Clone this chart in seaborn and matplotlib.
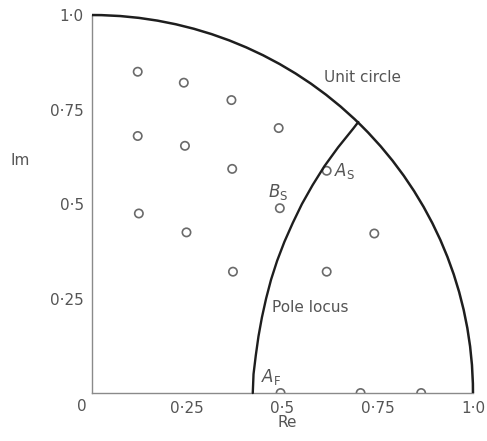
import matplotlib
matplotlib.use("Agg")
import matplotlib.pyplot as plt
from matplotlib.patches import Arc
import seaborn as sns
import pandas as pd

# Trial pole positions (open circles)
pole_re = [0.120, 0.241, 0.366, 0.490,
           0.120, 0.244, 0.368, 0.493,
           0.123, 0.248, 0.370,
           0.616, 0.741, 0.616,
           0.495, 0.705, 0.864]
pole_im = [0.850, 0.821, 0.775, 0.701,
           0.680, 0.654, 0.593, 0.489,
           0.475, 0.425, 0.321,
           0.588, 0.422, 0.321,
           0.0, 0.0, 0.0]

# Pole locus, from the real axis up to the unit circle
locus_re = [0.422, 0.424, 0.430, 0.437, 0.446, 0.457, 0.470, 0.486,
            0.505, 0.527, 0.551, 0.579, 0.610, 0.646, 0.686, 0.699]
locus_im = [0.000, 0.050, 0.100, 0.150, 0.200, 0.250, 0.300, 0.350,
            0.400, 0.450, 0.500, 0.550, 0.600, 0.650, 0.700, 0.717]

tick_vals = [0.25, 0.5, 0.75, 1.0]
tick_labels = ["0·25", "0·5", "0·75", "1·0"]

sns.set_theme(style="white")
plt.rcParams["font.family"] = ["DejaVu Sans"]

text_col = "#555555"
axis_col = "#8a8a8a"
curve_col = "#1e1e1e"

fig = plt.figure(figsize=(4.87, 4.41), dpi=100)
ax = fig.add_axes([0.1889, 0.1088, 0.7823, 0.8571])
ax.set_xlim(0, 1)
ax.set_ylim(0, 1)

poles = pd.DataFrame({"Re": pole_re, "Im": pole_im})
locus = pd.DataFrame({"Re": locus_re, "Im": locus_im})

sns.scatterplot(data=poles, x="Re", y="Im", ax=ax, marker="o", s=36,
                facecolor="none", edgecolor="#6a6a6a", linewidth=1.2, zorder=3)

sns.lineplot(data=locus, x="Re", y="Im", ax=ax, sort=False, estimator=None,
             color=curve_col, linewidth=1.7, zorder=4)
for ln in ax.lines:
    ln.set_clip_on(False)

ax.add_patch(Arc((0, 0), 2, 2, theta1=0, theta2=90, color=curve_col,
                 linewidth=1.8, clip_on=False, zorder=4))

for side in ("top", "right"):
    ax.spines[side].set_visible(False)
for side in ("left", "bottom"):
    ax.spines[side].set_color(axis_col)
    ax.spines[side].set_linewidth(1.0)

ax.set_xticks(tick_vals)
ax.set_xticklabels(tick_labels)
ax.set_yticks(tick_vals)
ax.set_yticklabels(tick_labels)
ax.tick_params(axis="both", direction="in", length=7.5, width=1.0, color=axis_col,
               labelsize=11, labelcolor=text_col)
ax.tick_params(axis="x", pad=6)
ax.tick_params(axis="y", pad=6)
ax.xaxis.get_major_ticks()[-1].tick1line.set_visible(False)
ax.yaxis.get_major_ticks()[-1].tick1line.set_visible(False)
ax.set_xlabel("")
ax.set_ylabel("")

ax.text(-0.026, -0.036, "0", ha="center", va="center", fontsize=11, color=text_col,
        clip_on=False)
ax.text(-0.215, 0.615, "Im", ha="left", va="center", fontsize=11, color=text_col, clip_on=False)
ax.text(0.512, -0.079, "Re", ha="center", va="center", fontsize=11, color=text_col, clip_on=False)

ax.text(0.609, 0.836, "Unit circle", ha="left", va="center", fontsize=11, color=text_col)
ax.text(0.472, 0.225, "Pole locus", ha="left", va="center", fontsize=11, color=text_col)
ax.text(0.636, 0.588, r"$\mathit{A}_{\mathrm{S}}$", ha="left", va="center", fontsize=12, color=text_col)
ax.text(0.461, 0.531, r"$\mathit{B}_{\mathrm{S}}$", ha="left", va="center", fontsize=12, color=text_col)
ax.text(0.443, 0.043, r"$\mathit{A}_{\mathrm{F}}$", ha="left", va="center", fontsize=12, color=text_col)

fig.savefig("out.png", dpi=100)
